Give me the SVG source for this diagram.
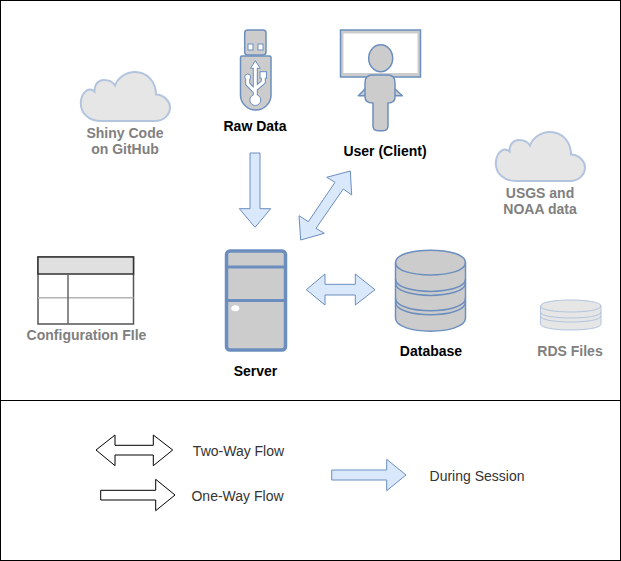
<svg xmlns="http://www.w3.org/2000/svg" width="621" height="561" viewBox="0 0 621 561">
<style>
text{font-family:"Liberation Sans",Arial,sans-serif;font-size:14px;text-anchor:middle}
.b{font-weight:bold;fill:#000}
.g{font-weight:bold;fill:#808080}
.l{fill:#333}
.s{fill:#ccc;stroke:#6c8ebf;stroke-width:1.5;stroke-linejoin:round}
.c{fill:#e6e6e6;stroke:#b3c4de;stroke-width:2}
.f{fill:#dae8fc;stroke:#6c8ebf;stroke-width:1}
.k{fill:#fff;stroke:#000;stroke-width:1}
.r{fill:#e6e6e6;stroke:#b3c4de;stroke-width:1}
</style>
<defs>
<path id="cloud" d="M21 49.500C9 49.500 .8 42 .8 32C.8 22 8 14.500 14.500 20C14.500 12 19 8.500 24 8.500C29 8.500 33 10.500 35 14C38 6 46 .5 55 .5C67 .5 76 10 76 23C84 23 90 30 90 36C90 43 84 49.500 75 49.500Z"/>
</defs>
<rect x="0.500" y="0.500" width="620" height="560" fill="#fff" stroke="#000"/>
<line x1="0" y1="400.500" x2="621" y2="400.500" stroke="#000"/>

<g id="connectors">
<path class="f" d="M250 153H260V208.700H270.700L255 227.300L239.300 208.700H250Z"/>
<path class="f" d="M350.300 171L351.700 195L343.300 189L316 228.300L324.300 233.300L300.700 240L299 215.700L308.300 221.700L335 182.300L326.700 177.300Z"/>
<path class="f" d="M306.300 289.700L325 274V284.300H355.300V274L375 289.700L355.300 305V295H325V305Z"/>
</g>

<g id="raw-data">
<rect class="s" x="244.700" y="30" width="21.300" height="25" rx="3"/>
<rect x="248" y="44" width="5" height="6" fill="#fff" stroke="#6c8ebf"/>
<rect x="258" y="44" width="5" height="6" fill="#fff" stroke="#6c8ebf"/>
<path class="s" d="M242 56H269.500Q271 56 271 57.500V96A15.300 15.300 0 0 1 240.500 96V57.500Q240.500 56 242 56Z"/>
<g fill="none" stroke="#6c8ebf" stroke-width="5">
<path d="M255.300 66V100M255.300 91.700L247.700 84V78M255.300 89L263.300 82V76"/>
</g>
<g fill="#fff" stroke="#6c8ebf" stroke-width="1">
<path d="M255.300 60.700L260.200 68.300H250.500Z"/>
<circle cx="247.700" cy="77" r="3"/>
<rect x="260" y="71.700" width="6.500" height="6.500"/>
<circle cx="255.300" cy="100" r="5.500"/>
</g>
<g fill="none" stroke="#fff" stroke-width="3">
<path d="M255.300 67V100M255.300 91.700L247.700 84V79M255.300 89L263.300 82V77"/>
</g>
<text class="b" x="255" y="131">Raw Data</text>
</g>

<g id="user-client">
<path class="s" d="M358.300 95.700L365 89H395L402.300 95.700Z"/>
<rect x="340.500" y="30" width="80" height="47" fill="#ccc" stroke="#6c8ebf" stroke-width="1.500"/>
<rect x="343.500" y="33.500" width="74" height="39.500" fill="#fff"/>
<ellipse class="s" cx="380.700" cy="58.300" rx="12" ry="13.500"/>
<path class="s" d="M372 75H388Q395 75 395 83V97Q395 103 388 103V126Q388 130.700 383 130.700H378Q373 130.700 373 126V103Q365 103 365 97V83Q365 75 372 75Z"/>
<text class="b" x="385" y="156">User (Client)</text>
</g>

<g id="server">
<rect x="226.500" y="251" width="59" height="99" rx="3.500" fill="#ccc" stroke="#6c8ebf" stroke-width="3.500"/>
<path d="M225 267H286M225 300.500H286" fill="none" stroke="#6c8ebf" stroke-width="3"/>
<ellipse cx="235.300" cy="308.300" rx="4" ry="3" fill="#fff"/>
<text class="b" x="255.500" y="376">Server</text>
</g>

<g id="database">
<path class="s" d="M395.500 262.700C395.500 246 465.500 246 465.500 262.700V318C465.500 335.500 395.500 335.500 395.500 318Z"/>
<path d="M395.500 262.700C395.500 279 465.500 279 465.500 262.700M395.500 279C395.500 295.500 465.500 295.500 465.500 279M395.500 283C395.500 299.500 465.500 299.500 465.500 283M395.500 298C395.500 315 465.500 315 465.500 298M395.500 302C395.500 319 465.500 319 465.500 302" fill="none" stroke="#6c8ebf" stroke-width="1.500"/>
<text class="b" x="431" y="356">Database</text>
</g>

<g id="shiny-code">
<use href="#cloud" class="c" x="80"  y="71.500"/>
<text class="g" x="125" y="138">Shiny Code</text>
<text class="g" x="125" y="154">on GitHub</text>
</g>

<g id="usgs-noaa">
<use href="#cloud" class="c" x="495" y="131.500"/>
<text class="g" x="540" y="198">USGS and</text>
<text class="g" x="540" y="214">NOAA data</text>
</g>

<g id="configuration-file">
<rect x="38" y="257" width="95.500" height="67" fill="#fff" stroke="#555" stroke-width="1.500"/>
<rect x="38" y="257" width="95.500" height="17" fill="#e0e0e0" stroke="#333" stroke-width="1.500"/>
<line x1="38" y1="297.700" x2="133.500" y2="297.700" stroke="#b3b3b3" stroke-width="1.500"/>
<line x1="68" y1="274" x2="68" y2="324" stroke="#666" stroke-width="1.500"/>
<text class="g" x="86.500" y="340">Configuration FIle</text>
</g>

<g id="rds-files">
<path class="r" d="M540.500 306C540.500 298 601 298 601 306V324C601 332 540.500 332 540.500 324Z"/>
<path d="M540.500 306C540.500 314 601 314 601 306M540.500 312C540.500 320 601 320 601 312M540.500 316C540.500 324 601 324 601 316" fill="none" stroke="#b3c4de"/>
<text class="g" x="570" y="356">RDS Files</text>
</g>

<g id="legend-two-way">
<path class="k" d="M96 450L115 435V445.300H153.300V435L172.700 450L153.300 465.700V455H115V465.700Z"/>
<text class="l" x="238.500" y="456">Two-Way Flow</text>
</g>
<g id="legend-one-way">
<path class="k" d="M100.700 490.300H155.700V479.300L175 495L155.700 510.700V500H100.700Z"/>
<text class="l" x="237.500" y="501">One-Way Flow</text>
</g>
<g id="legend-during-session">
<path class="f" d="M331.700 470H386.700V459.300L406 475L386.700 490.700V480H331.700Z"/>
<text class="l" x="477" y="481">During Session</text>
</g>
</svg>
